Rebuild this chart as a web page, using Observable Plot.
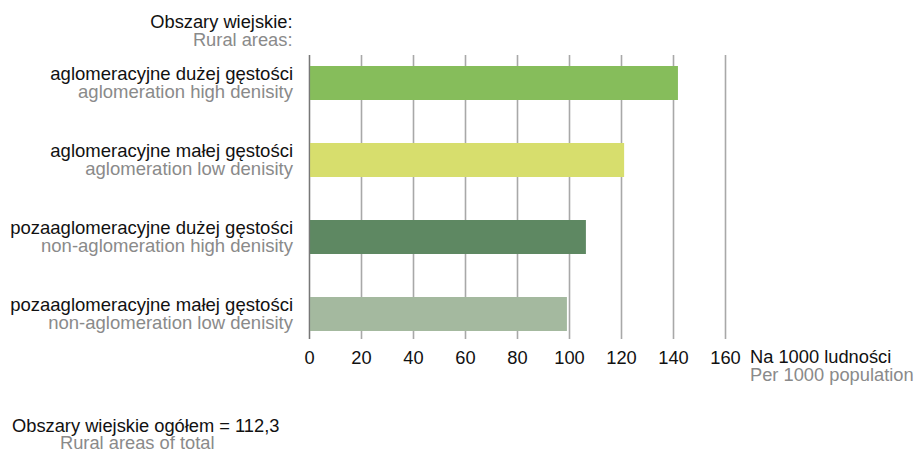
<!DOCTYPE html>
<html><head><meta charset="utf-8">
<script src="https://cdn.jsdelivr.net/npm/d3@7"></script>
<script src="https://cdn.jsdelivr.net/npm/@observablehq/plot@0.6"></script>
<style>
body{margin:0;background:#fff;}
svg{font-family:"Liberation Sans",Arial,sans-serif;}
</style></head>
<body><div id="chart"></div>
<script>
const categoriesPl = ["aglomeracyjne dużej gęstości","aglomeracyjne małej gęstości","pozaaglomeracyjne dużej gęstości","pozaaglomeracyjne małej gęstości"];
const categoriesEn = ["aglomeration high denisity","aglomeration low denisity","non-aglomeration high denisity","non-aglomeration low denisity"];
const values = [141.9, 121.2, 106.5, 99.2];
const colors = ["#86bd5b","#d7de6d","#5e8862","#a4b99f"];
const xTicks = [0,20,40,60,80,100,120,140,160];
const titlePl = "Obszary wiejskie:";
const titleEn = "Rural areas:";
const unitPl = "Na 1000 ludności";
const unitEn = "Per 1000 population";
const totalPl = "Obszary wiejskie ogółem = 112,3";
const totalEn = "Rural areas of total";

const data = categoriesPl.map((c,i)=>({pl:c, en:categoriesEn[i], value:values[i], color:colors[i]}));

const W = 918, H = 453;
const FONT = '"Liberation Sans",Arial,sans-serif';
const BLACK = "#111", GRAY = "#8a8a8a";
const plot = Plot.plot({
  width: W, height: H,
  marginLeft: 309, marginRight: 193, marginTop: 55, marginBottom: 114,
  style: {fontFamily: FONT, background: "#fff", fontSize: "18px"},
  x: {domain:[0,160], ticks: xTicks},
  y: {domain: categoriesPl, range:[56.5,340.5], paddingInner:0.558, paddingOuter:0.123, axis:null},
  marks: [
    Plot.gridX(xTicks, {stroke:"#a8a8a8", strokeOpacity:1, strokeWidth:1.6}),
    Plot.axisX(xTicks, {tickSize:0, tickPadding:11, fontSize:18.3, fill:BLACK, label:null, tickFormat:d=>String(d)}),
    Plot.barX(data, {y:"pl", x:"value", fill:"color"}),
    Plot.ruleX([0], {stroke:"#777", strokeWidth:1.2}),
    Plot.text(data, {y:"pl", text:"pl", frameAnchor:"left", dx:-16.5, dy:-9.5, textAnchor:"end", fontSize:18.5, fill:BLACK}),
    Plot.text(data, {y:"pl", text:"en", frameAnchor:"left", dx:-16.5, dy:8.5, textAnchor:"end", fontSize:18.5, fill:GRAY})
  ]
});
document.getElementById("chart").appendChild(plot);

const svg = d3.select(plot);
function note(txt, x, y, anchor, fill){
  svg.append("text").attr("x", x).attr("y", y).attr("text-anchor", anchor)
    .attr("fill", fill).attr("font-size", 18.3).attr("font-family", FONT).text(txt);
}
note(titlePl, 292.5, 28, "end", BLACK);
note(titleEn, 292.5, 45.5, "end", GRAY);
note(unitPl, 750, 363, "start", BLACK);
note(unitEn, 750, 380.5, "start", GRAY);
note(totalPl, 12, 431.5, "start", BLACK);
note(totalEn, 60, 449, "start", GRAY);
</script>
</body></html>
